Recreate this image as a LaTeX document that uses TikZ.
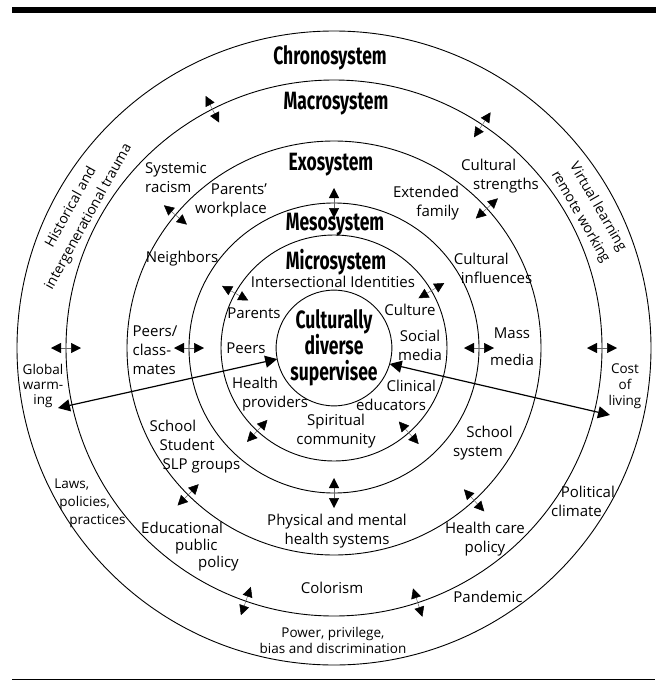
\documentclass[tikz,border=0pt]{standalone}
\usepackage{fontspec}
\setmainfont{Open Sans}
\newfontfamily\headfont[FakeStretch=0.7]{Fira Sans}
\usetikzlibrary{arrows.meta,calc}

\begin{document}
\begin{tikzpicture}[x=1pt,y=-1pt,
    ring/.style={draw, circle, line width=0.9pt, inner sep=0pt, outer sep=0pt},
    sys/.style={font=\headfont\bfseries\fontsize{25}{26}\selectfont, inner sep=0pt},
    lbl/.style={font=\fontsize{15}{19}\selectfont, inner sep=0pt, align=center},
    small/.style={font=\fontsize{13.5}{16}\selectfont, inner sep=0pt, align=center},
    link/.style={{Triangle[length=10pt,width=10pt,color=black]}-{Triangle[length=10pt,width=10pt,color=black]}, line width=0.5pt, draw=black!60},
    longlink/.style={{Triangle[length=12pt,width=12pt]}-{Triangle[length=12pt,width=12pt]}, line width=1.2pt}]

    \useasboundingbox (0,0) rectangle (660,680);
    \coordinate (c) at (334,348);

    \fill (12,7) rectangle (656,13);
    \draw[line width=1pt] (12,679) -- (655,679);

    \node[ring, minimum size=634pt] (chrono) at (c) {};
    \node[ring, minimum size=536pt] (macro) at (c) {};
    \node[ring, minimum size=414pt] (exo) at (c) {};
    \node[ring, minimum size=290pt] (meso) at (c) {};
    \node[ring, minimum size=226pt] (micro) at (c) {};
    \node[ring, sys, align=center, minimum size=114pt] (self) at (c) {Culturally\\diverse\\supervisee};

    \node[sys, anchor=base] (chronolbl) at (330,64) {Chronosystem};
    \node[sys, anchor=base] (macrolbl) at (336,109) {Macrosystem};
    \node[sys, anchor=base] (exolbl) at (331,170) {Exosystem};
    \node[sys, anchor=base] (mesolbl) at (335,230) {Mesosystem};
    \node[sys, anchor=base] (microlbl) at (336,269) {Microsystem};

    \foreach \ang/\rad [count=\i] in {243/268, 303.6/268, 180/268, 0/268, 109.2/268, 71.8/268,
        220/207, 317.6/207, 134.8/207, 47.4/207,
        270/145, 180/145, 0/145, 90/145,
        209/113, 329.5/113, 132.8/113, 48.6/113} {
        \coordinate (in\i) at ($(c)+(\ang:\rad-15)$);
        \coordinate (out\i) at ($(c)+(\ang:\rad+15)$);
        \draw[link] (in\i) -- (out\i);
    }

    \coordinate (warming) at (58,408);
    \coordinate (living) at (610,415);
    \draw[longlink] (warming) -- (self.191);
    \draw[longlink] (living) -- (self.344);

    \node[lbl, font=\fontsize{14}{20}\selectfont, rotate=61] (history) at (80,212) {Historical and\\intergenerational trauma};
    \node[lbl, font=\fontsize{14}{20}\selectfont, rotate=-60] (virtual) at (589,212) {Virtual learning\\remote working};
    \node[lbl, align=left] (racism) at (176,178) {Systemic\\racism};
    \node[lbl, align=right] (workplace) at (231,200) {Parents'\\workplace};
    \node[lbl] (neighbors) at (182,259) {Neighbors};
    \node[lbl] (identities) at (333,282) {Intersectional Identities};
    \node[lbl, align=left] (strengths) at (500,176) {Cultural\\\hspace*{12pt}strengths};
    \node[lbl, align=right] (family) at (426,203) {Extended\\family};
    \node[lbl, align=left] (influences) at (493,268) {Cultural\\\hspace*{7pt}influences};
    \node[lbl] (culture) at (410,310) {Culture};
    \node[lbl] (parents) at (254,313) {Parents};
    \node[lbl] (peers) at (246,348) {Peers};
    \node[lbl] (social) at (420,345) {Social\\media};
    \node[lbl, align=left] (providers) at (270,394) {Health\\\hspace*{10pt}providers};
    \node[lbl, align=right] (educators) at (396,395) {Clinical\\educators\hspace*{10pt}};
    \node[lbl] (spiritual) at (336,431) {Spiritual\\community};
    \node[lbl, align=left] (classmates) at (155,350) {Peers/\\class-\\mates};
    \node[lbl] (mass) at (512,347) {Mass\\[8pt]media};
    \node[small] (global) at (43,386) {Global\\[-1pt]warm-\\[-1pt]ing};
    \node[small] (cost) at (625,386) {Cost\\of\\living};
    \node[lbl, align=left] (slp) at (195,447) {School\\\hspace*{10pt}Student\\\hspace*{13pt}SLP groups};
    \node[lbl, align=right] (schoolsys) at (483,443) {School\\system\hspace*{10pt}};
    \node[small, align=left] (laws) at (90,503) {Laws,\\[2pt]\hspace*{5pt}policies,\\[2pt]\hspace*{15pt}practices};
    \node[lbl, align=left] (edupolicy) at (190,547) {Educational\\[-2pt]\hspace*{34pt}public\\[-2pt]\hspace*{57pt}policy};
    \node[lbl, align=right] (political) at (583,501) {Political\\climate\hspace*{13pt}};
    \node[lbl] (physical) at (337,531) {Physical and mental\\health systems};
    \node[lbl] (carepolicy) at (485,539) {Health care\\policy};
    \node[lbl] (colorism) at (332,588) {Colorism};
    \node[lbl] (pandemic) at (488,597) {Pandemic};
    \node[small] (power) at (333,640) {Power, privilege,\\bias and discrimination};
\end{tikzpicture}
\end{document}
